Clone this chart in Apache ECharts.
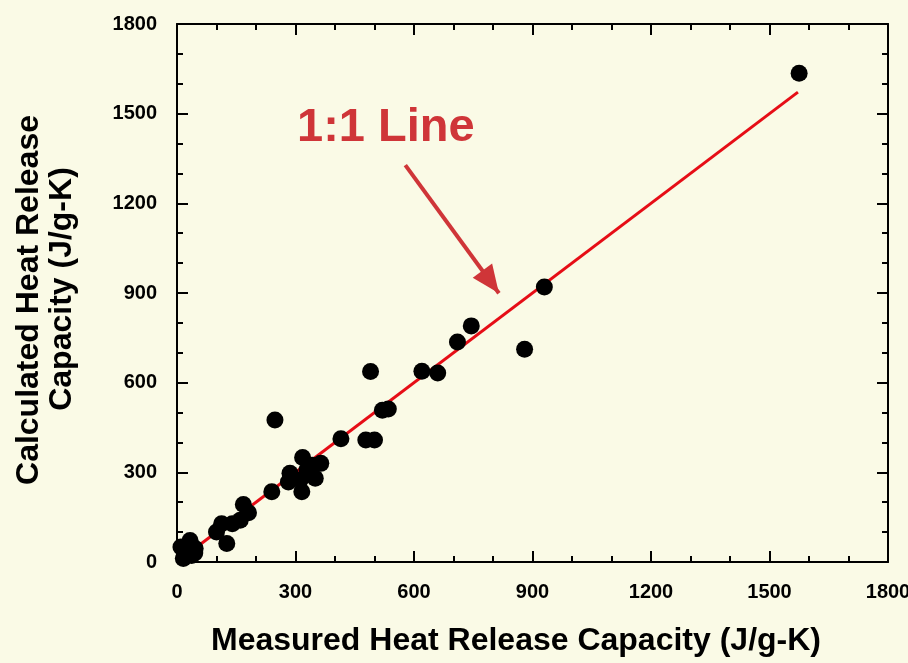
<!DOCTYPE html>
<html>
<head>
<meta charset="utf-8">
<script src="https://cdn.jsdelivr.net/npm/echarts@6/dist/echarts.min.js"></script>
<style>
html,body{margin:0;padding:0;background:#fafae6;}
#chart{width:908px;height:663px;}
</style>
</head>
<body>
<div id="chart"></div>
<script>
// Data: [measured, calculated] heat release capacity (J/g-K)
var measured   = [1575, 930, 880, 745, 710, 620, 660, 520, 535, 490, 415, 478, 500, 248, 318, 364, 350, 286, 282, 316, 312, 329, 342, 240, 168, 181, 160, 140, 113, 100, 126, 16, 33, 46, 10, 20, 37, 28, 45];
var calculated = [1635, 920, 712, 790, 736, 638, 632, 508, 512, 637, 412, 408, 408, 475, 350, 330, 280, 297, 268, 235, 274, 308, 324, 235, 192, 165, 140, 128, 128, 100, 62, 12, 72, 45, 50, 34, 22, 55, 30];
var lineX = [10, 1572];
var lineY = [10, 1572];
var arrowFrom = [578, 1328];
var arrowTo = [815, 899];
var axisTicks = [0, 300, 600, 900, 1200, 1500, 1800];
var xTitle = 'Measured Heat Release Capacity (J/g-K)';
var yTitle1 = 'Calculated Heat Release';
var yTitle2 = 'Capacity (J/g-K)';
var annotation = '1:1 Line';

var points = measured.map(function (m, i) { return [m, calculated[i]]; });
var linePts = lineX.map(function (x, i) { return [x, lineY[i]]; });

var FONT = '"Liberation Sans", Arial, Helvetica, sans-serif';
var axisMin = axisTicks[0], axisMax = axisTicks[axisTicks.length - 1];
var step = axisTicks[1] - axisTicks[0];

function makeAxis(pos, showLabel) {
  return {
    type: 'value', position: pos, min: axisMin, max: axisMax, interval: step,
    axisLine: { show: true, onZero: false, lineStyle: { color: '#000', width: 2 } },
    axisTick: { show: true, inside: true, length: 11, lineStyle: { color: '#000', width: 2 } },
    minorTick: { show: true, splitNumber: 3, length: 6, lineStyle: { color: '#000', width: 2 } },
    splitLine: { show: false },
    minorSplitLine: { show: false },
    axisLabel: {
      show: showLabel, fontSize: 20, fontWeight: 'bold', color: '#000', margin: 20, fontFamily: FONT,
      formatter: function (v) { return String(v); }
    }
  };
}

var chart = echarts.init(document.getElementById('chart'), null, { renderer: 'canvas' });
chart.setOption({
  backgroundColor: '#fafae6',
  animation: false,
  grid: { left: 177, right: 20, top: 24, bottom: 101, containLabel: false, outerBoundsMode: 'none' },
  xAxis: [makeAxis('bottom', true), makeAxis('top', false)],
  yAxis: [makeAxis('left', true), makeAxis('right', false)],
  graphic: [
    { type: 'text', x: 516, y: 641, style: { text: xTitle, align: 'center', verticalAlign: 'middle', font: 'bold 32px ' + FONT, fill: '#000' } },
    { type: 'text', x: 29, y: 300, rotation: Math.PI / 2, style: { text: yTitle1, align: 'center', verticalAlign: 'middle', font: 'bold 32px ' + FONT, fill: '#000' } },
    { type: 'text', x: 62, y: 289, rotation: Math.PI / 2, style: { text: yTitle2, align: 'center', verticalAlign: 'middle', font: 'bold 32px ' + FONT, fill: '#000' } },
    { type: 'text', x: 297, y: 128, style: { text: annotation, align: 'left', verticalAlign: 'middle', font: 'bold 47px ' + FONT, fill: '#cf3538' } }
  ],
  series: [
    {
      type: 'line', xAxisIndex: 0, yAxisIndex: 0, data: linePts, showSymbol: false, symbol: 'none',
      lineStyle: { color: '#e60d16', width: 3 }, z: 2, silent: true,
      markLine: {
        silent: true, animation: false,
        symbol: ['none', 'path://M0,-28 M0,0 L12,28 L-12,28 Z'], symbolSize: [24, 56],
        label: { show: false },
        lineStyle: { color: '#cf3538', width: 4, type: 'solid' },
        emphasis: { disabled: true },
        data: [[{ coord: arrowFrom }, { coord: arrowTo }]]
      }
    },
    {
      type: 'scatter', xAxisIndex: 0, yAxisIndex: 0, data: points, symbol: 'circle', symbolSize: 17,
      itemStyle: { color: '#000', opacity: 1 }, z: 5
    }
  ]
});
</script>
</body>
</html>
